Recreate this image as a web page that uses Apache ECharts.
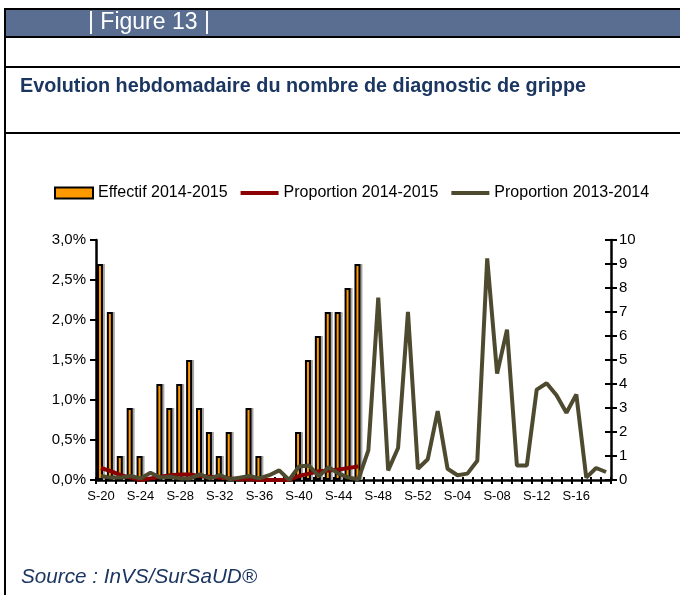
<!DOCTYPE html>
<html>
<head>
<meta charset="utf-8">
<script src="https://cdn.jsdelivr.net/npm/echarts@6/dist/echarts.min.js"></script>
<style>
  html, body { margin: 0; padding: 0; background: #fff; }
  #chart { width: 680px; height: 595px; }
</style>
</head>
<body>
<div id="chart"></div>
<script>
// semaines S-20 (2014) -> S-19 (2015)
const weeks = ['S-20', 'S-21', 'S-22', 'S-23', 'S-24', 'S-25', 'S-26', 'S-27', 'S-28', 'S-29',
  'S-30', 'S-31', 'S-32', 'S-33', 'S-34', 'S-35', 'S-36', 'S-37', 'S-38', 'S-39',
  'S-40', 'S-41', 'S-42', 'S-43', 'S-44', 'S-45', 'S-46', 'S-47', 'S-48', 'S-49',
  'S-50', 'S-51', 'S-52', 'S-01', 'S-02', 'S-03', 'S-04', 'S-05', 'S-06', 'S-07',
  'S-08', 'S-09', 'S-10', 'S-11', 'S-12', 'S-13', 'S-14', 'S-15', 'S-16', 'S-17',
  'S-18', 'S-19']

// effectif 2014-2015 (axe de droite)
const effectif = [9, 7, 1, 3, 1, 0, 4, 3, 4, 5, 3, 2, 1, 2, 0, 3, 1, 0, 0, 0, 2, 5, 6, 7, 7, 8, 9]

// proportions en % (axe de gauche)
const prop1415 = [0.15, 0.11, 0.06, 0.03, 0.0, 0.02, 0.04, 0.06, 0.07, 0.07, 0.05, 0.04, 0.03, 0.02,
  0.01, 0.01, 0.0, 0.0, 0.0, 0.0, 0.05, 0.08, 0.11, 0.12, 0.13, 0.15, 0.17]

const prop1314 = [0.05, 0.03, 0.03, 0.05, 0.02, 0.09, 0.03, 0.04, 0.02, 0.02, 0.07, 0.02, 0.06, 0.01,
  0.03, 0.05, 0.02, 0.06, 0.12, 0.0, 0.17, 0.18, 0.05, 0.16, 0.08, 0.03, 0.01,
  0.37, 2.28, 0.12, 0.40, 2.10, 0.14, 0.26, 0.86, 0.14, 0.06, 0.08, 0.24, 2.77, 1.33,
  1.88, 0.18, 0.18, 1.13, 1.21, 1.06, 0.84, 1.07, 0.03, 0.15, 0.10]

const font = 'Liberation Sans, Arial, sans-serif'
const chart = echarts.init(document.getElementById('chart'), null, { renderer: 'canvas' })

const hline = (y) => ({ type: 'rect', shape: { x: 4, y: y, width: 676, height: 2 }, style: { fill: '#000' } })

chart.setOption({
  animation: false,
  graphic: [
    // bandeau "Figure 13"
    { type: 'rect', shape: { x: 6, y: 10, width: 674, height: 26 }, style: { fill: '#5A6E92' } },
    hline(8), hline(36), hline(66), hline(132),
    { type: 'rect', shape: { x: 4, y: 8, width: 2, height: 587 }, style: { fill: '#000' } },
    {
      type: 'text', left: 88, top: 11,
      style: { text: '| Figure 13 |', fill: '#fff', font: '23px ' + font }
    },
    {
      type: 'text', left: 20, top: 77,
      style: { text: 'Evolution hebdomadaire du nombre de diagnostic de grippe', fill: '#1B3660', font: 'bold 19.8px ' + font }
    },
    {
      type: 'text', left: 21, top: 567,
      style: { text: 'Source : InVS/SurSaUD®', fill: '#1B3660', font: 'italic 20.7px ' + font }
    }
  ],
  legend: {
    left: 49,
    top: 180,
    itemWidth: 38,
    itemHeight: 11,
    itemGap: 11,
    textStyle: { fontFamily: font, fontSize: 16, color: '#000' },
    data: [
      { name: 'Effectif 2014-2015', icon: 'rect' },
      { name: 'Proportion 2014-2015', itemStyle: { color: 'transparent', borderWidth: 0 }, lineStyle: { width: 4 } },
      { name: 'Proportion 2013-2014', itemStyle: { color: 'transparent', borderWidth: 0 }, lineStyle: { width: 4 } }
    ]
  },
  grid: { left: 96, right: 69, top: 240, bottom: 115 },
  xAxis: [{
    type: 'category',
    data: weeks,
    axisLine: { lineStyle: { color: '#000', width: 2.5 } },
    axisTick: { show: true, interval: 0, length: 4, lineStyle: { color: '#000', width: 2 } },
    axisLabel: { interval: 3, margin: 10, color: '#000', fontFamily: font, fontSize: 13 }
  }, {
    // petits traits vers le haut
    type: 'category',
    data: weeks,
    position: 'bottom',
    axisLine: { show: false },
    axisTick: { show: true, inside: true, interval: 0, length: 3, lineStyle: { color: '#000', width: 2 } },
    axisLabel: { show: false }
  }],
  yAxis: [{
    type: 'value',
    min: 0,
    max: 3,
    interval: 0.5,
    splitLine: { show: false },
    axisLine: { show: true, lineStyle: { color: '#000', width: 2.5 } },
    axisTick: { show: true, length: 6, lineStyle: { color: '#000', width: 2 } },
    axisLabel: {
      margin: 10, color: '#000', fontFamily: font, fontSize: 15,
      formatter: v => v.toFixed(1).replace('.', ',') + '%'
    }
  }, {
    type: 'value',
    position: 'right',
    min: 0,
    max: 10,
    interval: 1,
    splitLine: { show: false },
    axisLine: { show: true, lineStyle: { color: '#000', width: 2.5 } },
    axisTick: { show: true, length: 6, lineStyle: { color: '#000', width: 2 } },
    axisLabel: { margin: 8, color: '#000', fontFamily: font, fontSize: 15 }
  }, {
    // traits croisés sur l'axe de droite
    type: 'value',
    position: 'right',
    min: 0,
    max: 10,
    interval: 1,
    splitLine: { show: false },
    axisLine: { show: false },
    axisTick: { show: true, inside: true, length: 6, lineStyle: { color: '#000', width: 2 } },
    axisLabel: { show: false }
  }],
  series: [{
    name: 'Effectif 2014-2015',
    type: 'bar',
    yAxisIndex: 1,
    barWidth: 6,
    barGap: '-67%',
    z: 3,
    data: effectif,
    itemStyle: { color: '#FF9900', borderColor: '#000', borderWidth: 2 }
  }, {
    // ombre grise à droite des barres
    name: 'ombre',
    type: 'bar',
    yAxisIndex: 1,
    barWidth: 6,
    z: 1,
    silent: true,
    data: effectif,
    itemStyle: { color: '#A6A6A6' }
  }, {
    name: 'Proportion 2014-2015',
    type: 'line',
    symbol: 'none',
    z: 4,
    data: prop1415,
    lineStyle: { color: '#8B0000', width: 4 },
    itemStyle: { color: '#8B0000' }
  }, {
    name: 'Proportion 2013-2014',
    type: 'line',
    symbol: 'none',
    z: 5,
    data: prop1314,
    lineStyle: { color: '#4E4A2F', width: 4 },
    itemStyle: { color: '#4E4A2F' }
  }]
})
</script>
</body>
</html>
